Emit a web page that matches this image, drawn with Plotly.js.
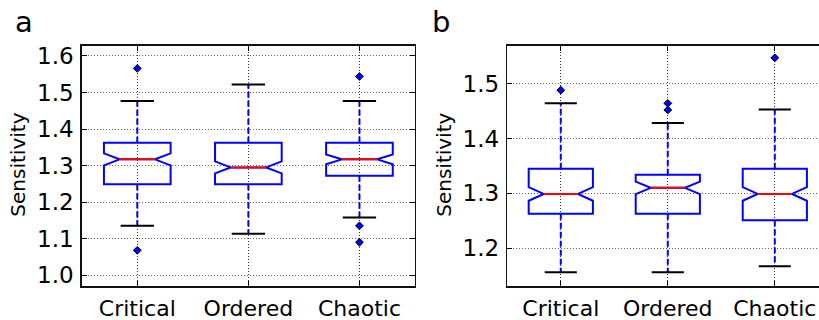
<!DOCTYPE html>
<html>
<head>
<meta charset="utf-8">
<script src="https://cdn.plot.ly/plotly-3.0.1.min.js"></script>
<style>html,body{margin:0;padding:0;background:#fff;}#chart{width:819px;height:320px;}</style>
</head>
<body>
<div id="chart"></div>
<script>
// ---- data ----
var categories = ['Critical', 'Ordered', 'Chaotic'];
var positions = [1, 2, 3];

// panel a
var aQ1 = [1.249, 1.249, 1.272];
var aMedian = [1.317, 1.295, 1.317];
var aQ3 = [1.3625, 1.3625, 1.3625];
var aLower = [1.135, 1.113, 1.158];
var aUpper = [1.477, 1.522, 1.477];
var aNotch = [0.0165, 0.0165, 0.0135];
var aOutliers = [[1.566, 1.068], [], [1.544, 1.135, 1.090]];
var aTicks = [1.0, 1.1, 1.2, 1.3, 1.4, 1.5, 1.6];

// panel b
var bQ1 = [1.263, 1.263, 1.251];
var bMedian = [1.299, 1.310, 1.299];
var bQ3 = [1.345, 1.334, 1.345];
var bLower = [1.156, 1.156, 1.167];
var bUpper = [1.464, 1.428, 1.453];
var bNotch = [0.0125, 0.0115, 0.0125];
var bOutliers = [[1.488], [1.464, 1.452], [1.547]];
var bTicks = [1.2, 1.3, 1.4, 1.5];

// ---- styling constants ----
var BOX_W = 0.6;
var NOTCH_W = 0.235;   // plotly: narrow half-width = half-width * (1 - 2*notchwidth)
var CAP_HALF = BOX_W / 4;
var BLUE = '#0000ff', RED = '#ff0000';
var FONT = 'DejaVu Sans, sans-serif';

function panelTraces(q1, med, q3, lo, hi, notch, outs, xa, ya) {
  var traces = [];
  traces.push({
    type: 'box', x: positions, q1: q1, median: med, q3: q3,
    lowerfence: q1, upperfence: q3, notchspan: notch, notched: true,
    notchwidth: NOTCH_W, width: BOX_W, whiskerwidth: 0, boxpoints: false,
    line: {color: BLUE, width: 2}, fillcolor: 'rgba(0,0,0,0)',
    xaxis: xa, yaxis: ya, showlegend: false, hoverinfo: 'skip'
  });
  // whiskers
  var wx = [], wy = [];
  positions.forEach(function (p, i) {
    wx.push(p, p, null, p, p, null);
    wy.push(q3[i], hi[i], null, q1[i], lo[i], null);
  });
  traces.push({type: 'scatter', mode: 'lines', x: wx, y: wy,
    line: {color: BLUE, width: 2, dash: '6px,3px'}, xaxis: xa, yaxis: ya,
    showlegend: false, hoverinfo: 'skip'});
  // caps
  var cx = [], cy = [];
  positions.forEach(function (p, i) {
    cx.push(p - CAP_HALF, p + CAP_HALF, null, p - CAP_HALF, p + CAP_HALF, null);
    cy.push(hi[i], hi[i], null, lo[i], lo[i], null);
  });
  traces.push({type: 'scatter', mode: 'lines', x: cx, y: cy,
    line: {color: '#000', width: 2}, xaxis: xa, yaxis: ya,
    showlegend: false, hoverinfo: 'skip'});
  // medians
  var mh = BOX_W / 2 * (1 - 2 * NOTCH_W);
  var mx = [], my = [];
  positions.forEach(function (p, i) {
    mx.push(p - mh, p + mh, null);
    my.push(med[i], med[i], null);
  });
  traces.push({type: 'scatter', mode: 'lines', x: mx, y: my,
    line: {color: RED, width: 2}, xaxis: xa, yaxis: ya,
    showlegend: false, hoverinfo: 'skip'});
  // outliers
  var ox = [], oy = [];
  positions.forEach(function (p, i) {
    outs[i].forEach(function (v) { ox.push(p); oy.push(v); });
  });
  traces.push({type: 'scatter', mode: 'markers', x: ox, y: oy,
    marker: {symbol: 'diamond', size: 6, color: BLUE, line: {color: '#000', width: 1}},
    xaxis: xa, yaxis: ya, showlegend: false, hoverinfo: 'skip'});
  return traces;
}

var data = [].concat(
  panelTraces(aQ1, aMedian, aQ3, aLower, aUpper, aNotch, aOutliers, 'x', 'y'),
  panelTraces(bQ1, bMedian, bQ3, bLower, bUpper, bNotch, bOutliers, 'x2', 'y2')
);

function xAxis(domain, range, anchor) {
  return {
    domain: domain, range: range, anchor: anchor,
    tickmode: 'array', tickvals: positions, ticktext: categories,
    ticks: 'inside', ticklen: 5, tickwidth: 1, tickcolor: '#000',
    showline: true, linecolor: '#111', linewidth: 1.5, mirror: 'ticks',
    showgrid: true, gridcolor: '#333', gridwidth: 1, griddash: '1px,2px',
    zeroline: false, tickfont: {family: FONT, size: 22, color: '#000'},
    ticklabelstandoff: 2
  };
}
function yAxis(range, ticks, anchor, mirror) {
  return {
    domain: [0.106, 0.857], range: range, anchor: anchor,
    tickmode: 'array', tickvals: ticks, ticktext: ticks.map(function (t) { return t.toFixed(1); }),
    ticks: 'inside', ticklen: 5, tickwidth: 1, tickcolor: '#000',
    showline: true, linecolor: '#111', linewidth: 1.5, mirror: mirror,
    showgrid: true, gridcolor: '#666', gridwidth: 1, griddash: '1px,2px',
    zeroline: false, tickfont: {family: FONT, size: 23, color: '#000'},
    ticklabelstandoff: 2
  };
}

var layout = {
  width: 819, height: 320,
  margin: {l: 0, r: 0, t: 0, b: 0},
  paper_bgcolor: '#fff', plot_bgcolor: '#fff',
  showlegend: false,
  xaxis: xAxis([0.0998, 0.5067], [0.5, 3.5], 'y'),
  yaxis: yAxis([0.97, 1.628], aTicks, 'x', 'ticks'),
  xaxis2: xAxis([0.6194, 1], [0.5, 3.413], 'y2'),
  yaxis2: yAxis([1.131, 1.569], bTicks, 'x2', false),
  annotations: [
    {text: 'a', xref: 'paper', yref: 'paper', x: 0.0163, y: 0.931, xanchor: 'left', yanchor: 'middle',
     showarrow: false, font: {family: FONT, size: 29, color: '#000'}},
    {text: 'b', xref: 'paper', yref: 'paper', x: 0.5255, y: 0.931, xanchor: 'left', yanchor: 'middle',
     showarrow: false, font: {family: FONT, size: 29, color: '#000'}},
    {text: 'Sensitivity', xref: 'paper', yref: 'paper', x: 0.0226, y: 0.484, xanchor: 'center', yanchor: 'middle',
     textangle: -90, showarrow: false, font: {family: FONT, size: 20, color: '#000'}},
    {text: 'Sensitivity', xref: 'paper', yref: 'paper', x: 0.5417, y: 0.484, xanchor: 'center', yanchor: 'middle',
     textangle: -90, showarrow: false, font: {family: FONT, size: 20, color: '#000'}}
  ]
};

Plotly.newPlot('chart', data, layout, {staticPlot: true, displayModeBar: false});
</script>
</body>
</html>
